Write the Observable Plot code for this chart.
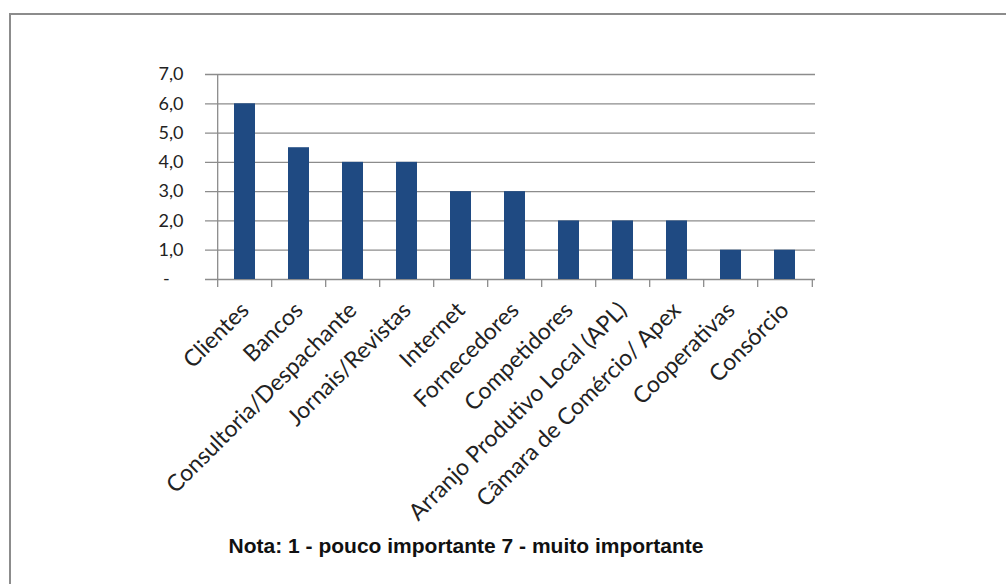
<!DOCTYPE html>
<html>
<head>
<meta charset="utf-8">
<script src="https://cdn.jsdelivr.net/npm/d3@7"></script>
<script src="https://cdn.jsdelivr.net/npm/@observablehq/plot@0.6"></script>
<style>
  html, body { margin: 0; padding: 0; background: #fff; overflow: hidden; }
  #wrap { position: relative; width: 1006px; height: 584px; overflow: hidden; }
  #frame { position: absolute; left: 9px; top: 13px; width: 1100px; height: 700px; border: 2px solid #8c8c8c; pointer-events: none; }
  #caption { position: absolute; left: 0; top: 534px; width: 932px; text-align: center;
    font-family: "Liberation Sans", Arial, sans-serif; font-weight: bold; font-size: 21px; color: #111; }
</style>
</head>
<body>
<div id="wrap">
  <div id="chart"></div>
  <div id="caption"></div>
  <div id="frame"></div>
</div>
<script>
const categories = ["Clientes", "Bancos", "Consultoria/Despachante", "Jornais/Revistas", "Internet", "Fornecedores", "Competidores", "Arranjo Produtivo Local (APL)", "Câmara de Comércio/ Apex", "Cooperativas", "Consórcio"];
const values = [6.0, 4.5, 4.0, 4.0, 3.0, 3.0, 2.0, 2.0, 2.0, 1.0, 1.0];
const yTicks = [0, 1, 2, 3, 4, 5, 6, 7];
const yTickLabels = ["-\u00a0\u00a0\u00a0", "1,0", "2,0", "3,0", "4,0", "5,0", "6,0", "7,0"];
const captionText = "Nota: 1 - pouco importante 7 - muito importante";

const data = categories.map((c, i) => ({category: c, value: values[i]}));

const W = 1006, H = 584;
const mL = 214, mR = 191, mT = 74, mB = 305;
const step = (W - mL - mR) / categories.length;
const gridColor = "#8c8c8c";
const font = "Lato, 'Open Sans', sans-serif";

const chart = Plot.plot({
  width: W,
  height: H,
  marginLeft: mL,
  marginRight: mR,
  marginTop: mT,
  marginBottom: mB,
  style: {fontFamily: font, fontSize: "19px", color: "#222", background: "transparent"},
  x: {domain: categories, paddingInner: 0.615, paddingOuter: 0.3075, label: null},
  y: {domain: [0, 7], label: null},
  marks: [
    Plot.ruleY(yTicks, {stroke: gridColor, strokeWidth: 1.3, insetLeft: -9}),
    Plot.barY(data, {x: "category", y: "value", fill: "#1F4A82"}),
    Plot.ruleX(categories, {x: d => d, dx: -step / 2, y1: 0, y2: 0, insetBottom: -8, stroke: gridColor, strokeWidth: 1.3}),
    Plot.ruleX([categories[categories.length - 1]], {x: d => d, dx: step / 2, y1: 0, y2: 0, insetBottom: -8, stroke: gridColor, strokeWidth: 1.3}),
    Plot.ruleX([categories[0]], {x: d => d, dx: -step / 2, y1: 0, y2: 7, stroke: gridColor, strokeWidth: 1.3}),
    Plot.axisY({ticks: yTicks, tickSize: 0, tickPadding: 31, fontSize: 18,
      tickFormat: d => yTickLabels[yTicks.indexOf(d)], label: null}),
    Plot.axisX({tickSize: 0, tickRotate: -45, tickPadding: 27, fontSize: 23, label: null})
  ]
});
document.getElementById("chart").appendChild(chart);
document.getElementById("caption").textContent = captionText;
</script>
</body>
</html>
